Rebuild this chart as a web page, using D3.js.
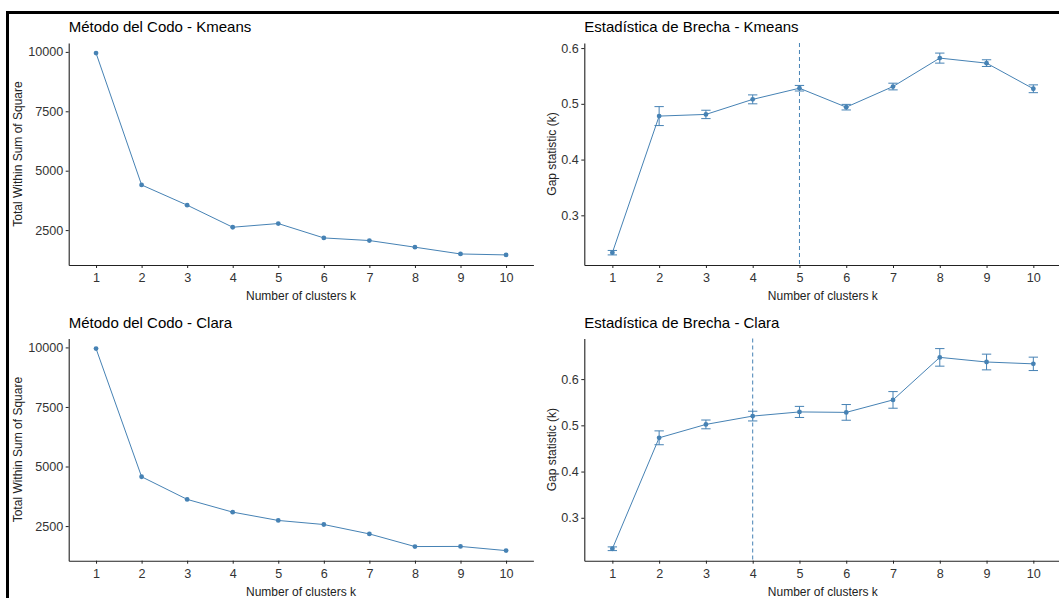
<!DOCTYPE html>
<html>
<head>
<meta charset="utf-8">
<script src="https://cdn.jsdelivr.net/npm/d3@7"></script>
<style>
  body { margin: 0; background: #fff; }
  svg text { font-family: "Liberation Sans", Arial, sans-serif; }
</style>
</head>
<body>
<div id="container"></div>
<script>
/* DATA */
const clusters = ["1", "2", "3", "4", "5", "6", "7", "8", "9", "10"];

const kmeansWss = [9950, 4400, 3550, 2620, 2775, 2170, 2060, 1780, 1495, 1455];
const claraWss  = [9950, 4570, 3620, 3085, 2735, 2565, 2170, 1640, 1645, 1470];

const kmeansGap   = [0.233, 0.478, 0.481, 0.508, 0.528, 0.494, 0.531, 0.582, 0.573, 0.527];
const kmeansGapSe = [0.004, 0.017, 0.0075, 0.008, 0.005, 0.005, 0.006, 0.009, 0.006, 0.007];
const claraGap    = [0.233, 0.473, 0.502, 0.520, 0.529, 0.528, 0.555, 0.647, 0.637, 0.633];
const claraGapSe  = [0.004, 0.015, 0.0095, 0.0105, 0.012, 0.017, 0.018, 0.019, 0.017, 0.0145];

const wssTicks = [2500, 5000, 7500, 10000];
const gapTicks = [0.3, 0.4, 0.5, 0.6];

const kmeansBestK = "5";
const claraBestK = "4";

/* CONSTANTS AND GLOBALS */
const width = 1059,
      height = 598,
      color = "steelblue";

const svg = d3.select("#container")
              .append("svg")
              .attr("width", width)
              .attr("height", height);

svg.append("rect").attr("width", width).attr("height", height).attr("fill", "#fff");

// black frame (top and left) of the screenshot
svg.append("rect").attr("x", 6).attr("y", 11).attr("width", width - 6).attr("height", 3).attr("fill", "#000");
svg.append("rect").attr("x", 6).attr("y", 11).attr("width", 3).attr("height", height - 11).attr("fill", "#000");

const panels = [
  {title: "Método del Codo - Kmeans", ylab: "Total Within Sum of Square", values: kmeansWss,
   ticks: wssTicks, fmt: d3.format("d"), left: 68.7, right: 533.4, top: 43, bottom: 265, ylabX: 18},
  {title: "Estadística de Brecha - Kmeans", ylab: "Gap statistic (k)", values: kmeansGap, se: kmeansGapSe,
   ticks: gapTicks, fmt: d3.format(".1f"), best: kmeansBestK, left: 584.3, right: 1061.4, top: 43, bottom: 265, ylabX: 552},
  {title: "Método del Codo - Clara", ylab: "Total Within Sum of Square", values: claraWss,
   ticks: wssTicks, fmt: d3.format("d"), left: 68.7, right: 533.4, top: 338.5, bottom: 560.7, ylabX: 18},
  {title: "Estadística de Brecha - Clara", ylab: "Gap statistic (k)", values: claraGap, se: claraGapSe,
   ticks: gapTicks, fmt: d3.format(".1f"), best: claraBestK, left: 584.3, right: 1061.4, top: 338.5, bottom: 560.7, ylabX: 552}
];

panels.forEach(drawPanel);

function drawPanel(p) {
  const data = clusters.map((k, i) => ({
    k: k,
    v: p.values[i],
    lo: p.se ? p.values[i] - p.se[i] : p.values[i],
    hi: p.se ? p.values[i] + p.se[i] : p.values[i]
  }));

  /* SCALES */
  const xScale = d3.scalePoint()
                   .domain(clusters)
                   .range([p.left, p.right])
                   .padding(0.6);

  const ymin = d3.min(data, d => d.lo),
        ymax = d3.max(data, d => d.hi),
        pad = (ymax - ymin) * 0.05;

  const yScale = d3.scaleLinear()
                   .domain([ymin - pad, ymax + pad])
                   .range([p.bottom, p.top]);

  const g = svg.append("g");

  // optimal k line
  if (p.best) {
    g.append("line")
     .attr("x1", xScale(p.best)).attr("x2", xScale(p.best))
     .attr("y1", p.top).attr("y2", p.bottom)
     .attr("stroke", color)
     .attr("stroke-width", 1)
     .attr("stroke-dasharray", "4,3");
  }

  /* AXES */
  const xAxis = d3.axisBottom(xScale).tickSize(3).tickSizeOuter(0).tickPadding(5);
  const yAxis = d3.axisLeft(yScale).tickValues(p.ticks).tickFormat(p.fmt)
                  .tickSize(3).tickSizeOuter(0).tickPadding(2.5);

  const gx = g.append("g")
              .attr("transform", `translate(0, ${p.bottom})`)
              .call(xAxis);
  const gy = g.append("g")
              .attr("transform", `translate(${p.left}, 0)`)
              .call(yAxis);

  [gx, gy].forEach(a => {
    a.select(".domain").attr("stroke", "#222").attr("stroke-width", 1.1);
    a.selectAll(".tick line").attr("stroke", "#222");
    a.selectAll(".tick text").attr("fill", "#333").attr("font-size", "12.6px")
     .attr("font-family", "'Liberation Sans', Arial, sans-serif");
  });

  // error bars
  if (p.se) {
    const cap = xScale.step() * 0.1;
    const eb = g.selectAll(".eb")
                .data(data)
                .join("g")
                .attr("stroke", color)
                .attr("stroke-width", 1);
    eb.append("line")
      .attr("x1", d => xScale(d.k)).attr("x2", d => xScale(d.k))
      .attr("y1", d => yScale(d.lo)).attr("y2", d => yScale(d.hi));
    eb.append("line")
      .attr("x1", d => xScale(d.k) - cap).attr("x2", d => xScale(d.k) + cap)
      .attr("y1", d => yScale(d.lo)).attr("y2", d => yScale(d.lo));
    eb.append("line")
      .attr("x1", d => xScale(d.k) - cap).attr("x2", d => xScale(d.k) + cap)
      .attr("y1", d => yScale(d.hi)).attr("y2", d => yScale(d.hi));
  }

  // line + points
  const line = d3.line()
                 .x(d => xScale(d.k))
                 .y(d => yScale(d.v));

  g.append("path")
   .datum(data)
   .attr("d", line)
   .attr("fill", "none")
   .attr("stroke", color)
   .attr("stroke-width", 1);

  g.selectAll("circle")
   .data(data)
   .join("circle")
   .attr("cx", d => xScale(d.k))
   .attr("cy", d => yScale(d.v))
   .attr("r", 2.4)
   .attr("fill", color);

  // titles
  g.append("text")
   .attr("x", p.left)
   .attr("y", p.top - 11)
   .attr("font-size", "15px")
   .attr("fill", "#000")
   .text(p.title);

  g.append("text")
   .attr("x", (p.left + p.right) / 2)
   .attr("y", p.bottom + 35)
   .attr("text-anchor", "middle")
   .attr("font-size", "12px")
   .attr("fill", "#222")
   .text("Number of clusters k");

  g.append("text")
   .attr("transform", `translate(${p.ylabX}, ${(p.top + p.bottom) / 2}) rotate(-90)`)
   .attr("text-anchor", "middle")
   .attr("dominant-baseline", "central")
   .attr("font-size", "12px")
   .attr("fill", "#222")
   .text(p.ylab);
}
</script>
</body>
</html>
